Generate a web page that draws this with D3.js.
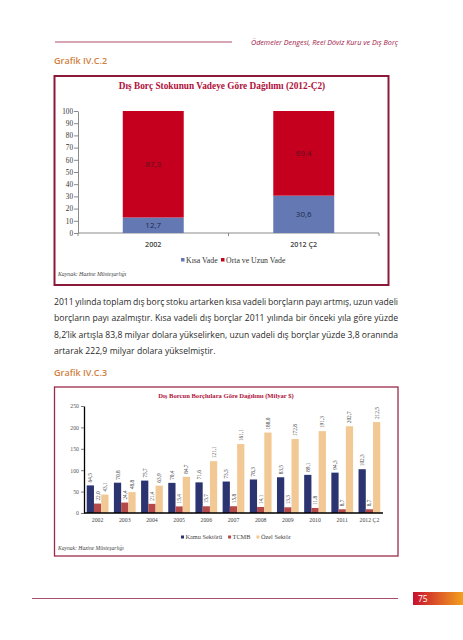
<!DOCTYPE html>
<html><head><meta charset="utf-8">
<script src="https://cdn.jsdelivr.net/npm/d3@7"></script>
<style>body{margin:0;background:#fff}svg{display:block}</style>
</head><body>
<script>
// ---- Data: chart 1 ----
const cat1 = ["2002", "2012 Ç2"];
const kisaVade = [12.7, 30.6];
const ortaUzunVade = [87.3, 69.4];
const yTicks1 = [0,10,20,30,40,50,60,70,80,90,100];
// ---- Data: chart 2 ----
const years2 = ["2002","2003","2004","2005","2006","2007","2008","2009","2010","2011","2012 Ç2"];
const kamu = [64.5, 70.8, 75.7, 70.4, 71.6, 73.5, 78.3, 83.5, 89.1, 94.3, 102.3];
const tcmb = [22.0, 24.4, 21.4, 15.4, 15.7, 15.8, 14.1, 13.3, 11.8, 8.7, 8.7];
const ozel = [43.1, 48.8, 63.9, 84.7, 121.1, 161.1, 188.0, 172.8, 191.3, 202.7, 212.5];
const yTicks2 = [0,50,100,150,200,250];
const paragraph = [
  "2011 yılında toplam dış borç stoku artarken kısa vadeli borçların payı artmış, uzun vadeli",
  "borçların payı azalmıştır. Kısa vadeli dış borçlar 2011 yılında bir önceki yıla göre yüzde",
  "8,2’lik artışla 83,8 milyar dolara yükselirken, uzun vadeli dış borçlar yüzde 3,8 oranında",
  "artarak 222,9 milyar dolara yükselmiştir."
];

const fmt = v => d3.format(".1f")(v).replace(".", ",");
const serif = "'Liberation Serif', 'DejaVu Serif', serif";
const sans = "'Open Sans', 'Liberation Sans', sans-serif";

const svg = d3.select("body").append("svg").attr("width", 463).attr("height", 640);

// ---- Page header ----
svg.append("line").attr("x1",55).attr("x2",232).attr("y1",42).attr("y2",42)
  .attr("stroke","#c98a9a").attr("stroke-width",1.5);
svg.append("text").attr("x",398).attr("y",44.5).attr("text-anchor","end")
  .attr("font-family",sans).attr("font-style","italic").attr("font-size",7.2)
  .attr("fill","#a01848").text("Ödemeler Dengesi, Reel Döviz Kuru ve Dış Borç");
svg.append("text").attr("x",54).attr("y",63.5).attr("font-family",sans)
  .attr("font-size",9).attr("fill","#d0803e").attr("font-weight",600).text("Grafik IV.C.2");

// ---- Chart 1 ----
svg.append("rect").attr("x",54.5).attr("y",76).attr("width",334).attr("height",209)
  .attr("fill","none").attr("stroke","#8b1a3a").attr("stroke-width",2);
svg.append("text").attr("x",222).attr("y",89).attr("text-anchor","middle")
  .attr("font-family",serif).attr("font-weight","bold").attr("font-size",9.3)
  .attr("fill","#b0103a").text("Dış Borç Stokunun Vadeye Göre Dağılımı (2012-Ç2)");

const y1 = d3.scaleLinear().domain([0,100]).range([233,111]);
const x1 = d3.scaleBand().domain(cat1).range([78,379]).paddingInner(0.595).paddingOuter(0.2975);

const gy1 = svg.append("g").attr("transform","translate(78,0)")
  .call(d3.axisLeft(y1).tickValues(yTicks1).tickSize(4).tickSizeOuter(0));
gy1.select(".domain").attr("stroke","#8a8a8a");
gy1.selectAll(".tick line").attr("stroke","#8a8a8a");
gy1.selectAll(".tick text").attr("font-family",serif).attr("font-size",7.2).attr("fill","#333").attr("x",-5);

// x axis line with boundary ticks
svg.append("line").attr("x1",78).attr("x2",379).attr("y1",233).attr("y2",233).attr("stroke","#8a8a8a");
const bounds1 = [78, (x1("2002")+x1("2012 Ç2")+x1.bandwidth())/2, 379];
svg.selectAll(".xt1").data(bounds1).join("line").attr("x1",d=>d).attr("x2",d=>d)
  .attr("y1",233).attr("y2",236).attr("stroke","#8a8a8a");

const c1Blue = "#6478b4", c1Red = "#c5001e";
cat1.forEach((c,i) => {
  const bx = x1(c), bw = x1.bandwidth();
  svg.append("rect").attr("x",bx).attr("width",bw).attr("y",y1(kisaVade[i]))
    .attr("height",y1(0)-y1(kisaVade[i])).attr("fill",c1Blue);
  svg.append("rect").attr("x",bx).attr("width",bw).attr("y",y1(kisaVade[i]+ortaUzunVade[i]))
    .attr("height",y1(kisaVade[i])-y1(kisaVade[i]+ortaUzunVade[i])).attr("fill",c1Red);
  svg.append("text").attr("x",bx+bw/2).attr("y",y1(kisaVade[i]/2)+3).attr("text-anchor","middle")
    .attr("font-family",sans).attr("font-size",8).attr("fill","#1e2a4a").text(fmt(kisaVade[i]));
  svg.append("text").attr("x",bx+bw/2).attr("y",y1(kisaVade[i]+ortaUzunVade[i]/2)+3).attr("text-anchor","middle")
    .attr("font-family",sans).attr("font-size",8).attr("fill","#5a1020").text(fmt(ortaUzunVade[i]));
  svg.append("text").attr("x",bx+bw/2).attr("y",246.5).attr("text-anchor","middle")
    .attr("font-family",sans).attr("font-size",7.2).attr("font-weight",600).attr("fill","#444").text(c);
});

// legend 1
const leg1 = [["Kısa Vade",c1Blue,181],["Orta ve Uzun Vade",c1Red,221]];
leg1.forEach(([t,c,x]) => {
  svg.append("rect").attr("x",x).attr("y",258).attr("width",3.5).attr("height",3.5).attr("fill",c);
  svg.append("text").attr("x",x+5).attr("y",262.5).attr("font-family",serif).attr("font-size",7.8)
    .attr("fill","#333").text(t);
});
svg.append("text").attr("x",58).attr("y",276).attr("font-family",serif).attr("font-style","italic")
  .attr("font-size",5.8).attr("fill","#444").text("Kaynak: Hazine Müsteşarlığı");

// ---- Paragraph (justified) ----
const pLeft = 54, pRight = 398, pYs = [304.5, 321, 337.5, 354];
paragraph.forEach((line,i) => {
  const words = line.split(" ");
  const g = svg.append("g");
  const ts = words.map(w => g.append("text").attr("y",pYs[i]).attr("font-family",sans)
    .attr("font-size",8.6).attr("fill","#2a2a2a").text(w));
  const widths = ts.map(t => t.node().getComputedTextLength());
  const total = d3.sum(widths);
  const space = (i < paragraph.length-1) ? (pRight-pLeft-total)/(words.length-1) : 2.4;
  let x = pLeft;
  ts.forEach((t,j) => { t.attr("x",x); x += widths[j] + space; });
});

svg.append("text").attr("x",54).attr("y",375.5).attr("font-family",sans)
  .attr("font-size",9).attr("fill","#d0803e").attr("font-weight",600).text("Grafik IV.C.3");

// ---- Chart 2 ----
svg.append("rect").attr("x",54.5).attr("y",387).attr("width",343.5).attr("height",169)
  .attr("fill","none").attr("stroke","#9b2a4a").attr("stroke-width",1.3);
svg.append("text").attr("x",226).attr("y",397.5).attr("text-anchor","middle")
  .attr("font-family",serif).attr("font-weight","bold").attr("font-size",6.6)
  .attr("fill","#b0103a").text("Dış Borcun Borçlulara Göre Dağılımı (Milyar $)");

const y2 = d3.scaleLinear().domain([0,250]).range([513,406]);
const x2 = d3.scaleBand().domain(years2).range([84,383]).paddingInner(0.2).paddingOuter(0.1);
const seriesNames = ["Kamu Sektörü","TCMB","Özel Sektör"];
const seriesVals = [kamu, tcmb, ozel];
const seriesCols = ["#2b3470","#b5494a","#f2c994"];
const xs = d3.scaleBand().domain(seriesNames).range([0,x2.bandwidth()]);

const gy2 = svg.append("g").attr("transform","translate(84,0)")
  .call(d3.axisLeft(y2).tickValues(yTicks2).tickSize(3).tickSizeOuter(0));
gy2.select(".domain").attr("stroke","#000").attr("stroke-width",1.3);
gy2.selectAll(".tick line").attr("stroke","#777");
gy2.selectAll(".tick text").attr("font-family",serif).attr("font-size",5.8).attr("fill","#555").attr("x",-5);

years2.forEach((yr,i) => {
  seriesNames.forEach((s,k) => {
    const v = seriesVals[k][i];
    const bx = x2(yr) + xs(s), bw = xs.bandwidth();
    svg.append("rect").attr("x",bx).attr("width",bw).attr("y",y2(v)).attr("height",y2(0)-y2(v))
      .attr("fill",seriesCols[k]);
    svg.append("text").attr("transform",`translate(${bx+bw/2+2},${y2(v)-3}) rotate(-90)`)
      .attr("font-family",serif).attr("font-size",5.3).attr("fill","#444").text(fmt(v));
  });
  svg.append("text").attr("x",x2(yr)+x2.bandwidth()/2).attr("y",522).attr("text-anchor","middle")
    .attr("font-family",serif).attr("font-size",5.8).attr("fill","#444").text(yr);
});
svg.append("line").attr("x1",84).attr("x2",383).attr("y1",513).attr("y2",513)
  .attr("stroke","#000").attr("stroke-width",1.3);

// legend 2 laid out sequentially
let lx = 181;
seriesNames.forEach((s,k) => {
  svg.append("rect").attr("x",lx).attr("y",535.5).attr("width",3).attr("height",3).attr("fill",seriesCols[k]);
  const t = svg.append("text").attr("x",lx+4.5).attr("y",539.3).attr("font-family",serif).attr("font-size",6.3)
    .attr("fill","#444").text(s);
  lx += 4.5 + t.node().getComputedTextLength() + 6;
});
svg.append("text").attr("x",58).attr("y",550).attr("font-family",serif).attr("font-style","italic")
  .attr("font-size",5.6).attr("fill","#444").text("Kaynak: Hazine Müsteşarlığı");

// ---- Footer ----
svg.append("line").attr("x1",32).attr("x2",398).attr("y1",598.5).attr("y2",598.5)
  .attr("stroke","#a8506a").attr("stroke-width",1);
const grad = svg.append("defs").append("linearGradient").attr("id","pg");
grad.append("stop").attr("offset","0%").attr("stop-color","#c8102e");
grad.append("stop").attr("offset","100%").attr("stop-color","#f2a020");
svg.append("rect").attr("x",413).attr("y",592).attr("width",50).attr("height",13).attr("fill","url(#pg)");
svg.append("text").attr("x",418).attr("y",602).attr("font-family",sans).attr("font-size",8.5)
  .attr("fill","#fff").text("75");
</script>
</body></html>
